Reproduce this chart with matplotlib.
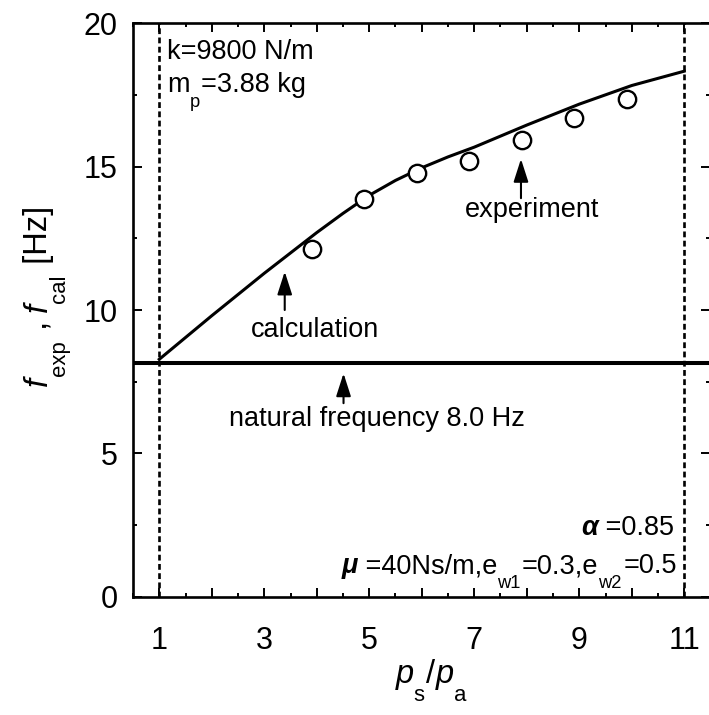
import matplotlib
matplotlib.use('Agg')
import matplotlib.pyplot as plt
import matplotlib.transforms as mtrans
from matplotlib.ticker import FixedLocator, MultipleLocator, FuncFormatter

plt.rcParams['font.family'] = ['Liberation Sans', 'DejaVu Sans']

# measured points (circles)
ratio_exp = [3.9, 4.9, 5.9, 6.9, 7.9, 8.9, 9.9]
f_exp = [12.12, 13.86, 14.77, 15.21, 15.93, 16.69, 17.35]

# calculated curve
ratio_cal = [1, 2, 3, 4, 4.5, 5, 5.5, 6, 6.5, 7, 8, 9, 10, 11]
f_cal = [8.28, 9.80, 11.28, 12.70, 13.37, 14.0, 14.52, 14.96, 15.34, 15.68, 16.45, 17.18, 17.83, 18.33]

f_natural = 8.15
ratio_limits = [1, 11]
x_ticks = [1, 2, 3, 4, 5, 6, 7, 8, 9, 10, 11]
y_ticks = [0, 5, 10, 15, 20]

FS = 19.5
SUB = 0.68


def rich_text(ax, x, y, parts, ha='left', rotation=0, size=FS, transform=None):
    # parts: (text, style, is_sub) -- draws pieces one after another,
    # subscripts dropped well below the baseline like the original plot
    fig = ax.figure
    if transform is None:
        transform = ax.transData
    r = fig.canvas.get_renderer()
    arts, widths = [], []
    for text, style, sub in parts:
        fs = size * SUB if sub else size
        kw = dict(fontsize=fs, rotation=rotation, rotation_mode='anchor',
                  ha='left', va='baseline', transform=transform)
        if 'i' in style:
            kw['style'] = 'italic'
        if 'b' in style:
            kw['weight'] = 'bold'
        t = ax.text(x, y, text, **kw)
        t.set_clip_on(False)
        ext = t.get_window_extent(r)
        w = ext.height if rotation else ext.width
        arts.append(t)
        widths.append(w / fig.dpi)
    total = sum(widths)
    pos = {'left': 0, 'center': -total / 2, 'right': -total}[ha]
    for t, w, (text, style, sub) in zip(arts, widths, parts):
        drop = size * 0.55 / 72 if sub else 0
        if rotation:
            dx, dy = drop, pos
        else:
            dx, dy = pos, -drop
        t.set_transform(transform + mtrans.ScaledTranslation(dx, dy, fig.dpi_scale_trans))
        pos += w + (1.5 / fig.dpi if sub else 0)
    return arts


fig = plt.figure(figsize=(7.09, 7.15), dpi=100)
ax = fig.add_axes([133 / 709, 118.3 / 715, (710.5 - 133) / 709, (596.7 - 23.3) / 715])

ax.axhline(f_natural, color='k', lw=2.9, zorder=2)
for xv in ratio_limits:
    ax.axvline(xv, color='k', lw=1.9, dashes=(2.2, 1.3), zorder=1)
ax.plot(ratio_cal, f_cal, color='k', lw=2.2, zorder=3)
ax.plot(ratio_exp, f_exp, 'o', ms=12.5, mfc='white', mec='k', mew=1.7, zorder=4)

ax.set_xlim(0.5, 11.5)
ax.set_ylim(0, 20)

ax.xaxis.set_major_locator(FixedLocator(x_ticks))
ax.xaxis.set_minor_locator(MultipleLocator(0.5))
ax.xaxis.set_major_formatter(FuncFormatter(lambda v, p: '%d' % v if int(round(v)) % 2 == 1 else ''))
ax.yaxis.set_major_locator(FixedLocator(y_ticks))
ax.yaxis.set_minor_locator(MultipleLocator(2.5))
ax.tick_params(which='both', direction='in', top=True, right=True, width=1.4, labelsize=22)
ax.tick_params(which='major', length=6.5)
ax.tick_params(which='minor', length=3)
ax.tick_params(axis='x', pad=21)
ax.tick_params(axis='y', pad=11)
for s in ax.spines.values():
    s.set_linewidth(1.9)

# annotations
arrow = dict(arrowstyle='-|>,head_length=1.4,head_width=0.45', color='k', lw=1.5,
             shrinkA=0, shrinkB=0, mutation_scale=10)
ax.annotate('', xy=(7.89, 15.27), xytext=(7.89, 13.9), arrowprops=arrow)
ax.text(8.1, 13.24, 'experiment', fontsize=FS, ha='center', va='baseline')
ax.annotate('', xy=(3.39, 11.34), xytext=(3.39, 10.0), arrowprops=arrow)
ax.text(3.97, 9.05, 'calculation', fontsize=FS, ha='center', va='baseline')
ax.annotate('', xy=(4.51, 7.79), xytext=(4.51, 6.75), arrowprops=arrow)
ax.text(5.15, 5.95, 'natural frequency 8.0 Hz', fontsize=FS, ha='center', va='baseline')

rich_text(ax, 1.15, 18.74, [('k=9800 N/m', 'n', False)])
rich_text(ax, 1.15, 17.61, [('m', 'n', False), ('p', 'n', True), ('=3.88 kg', 'n', False)])
rich_text(ax, 10.8, 2.15, [('α', 'bi', False), (' =0.85', 'n', False)], ha='right')
rich_text(ax, 10.8, 0.815, [('μ', 'bi', False), (' =40Ns/m,e', 'n', False), ('w1', 'n', True),
                            ('=0.3,e', 'n', False), ('w2', 'n', True), ('=0.5', 'n', False)], ha='right')

# axis labels
rich_text(ax, 0.6065, 0.0448, [('p', 'i', False), ('s', 'n', True), ('/', 'n', False),
                               ('p', 'i', False), ('a', 'n', True)],
          ha='center', size=23.5, transform=fig.transFigure)
rich_text(ax, 47 / 709, 0.5846, [('f', 'i', False), ('exp', 'n', True), (' , ', 'n', False),
                                 ('f', 'i', False), ('cal', 'n', True), (' [Hz]', 'n', False)],
          ha='center', rotation=90, size=23.5, transform=fig.transFigure)

fig.savefig('out.png', dpi=100)
